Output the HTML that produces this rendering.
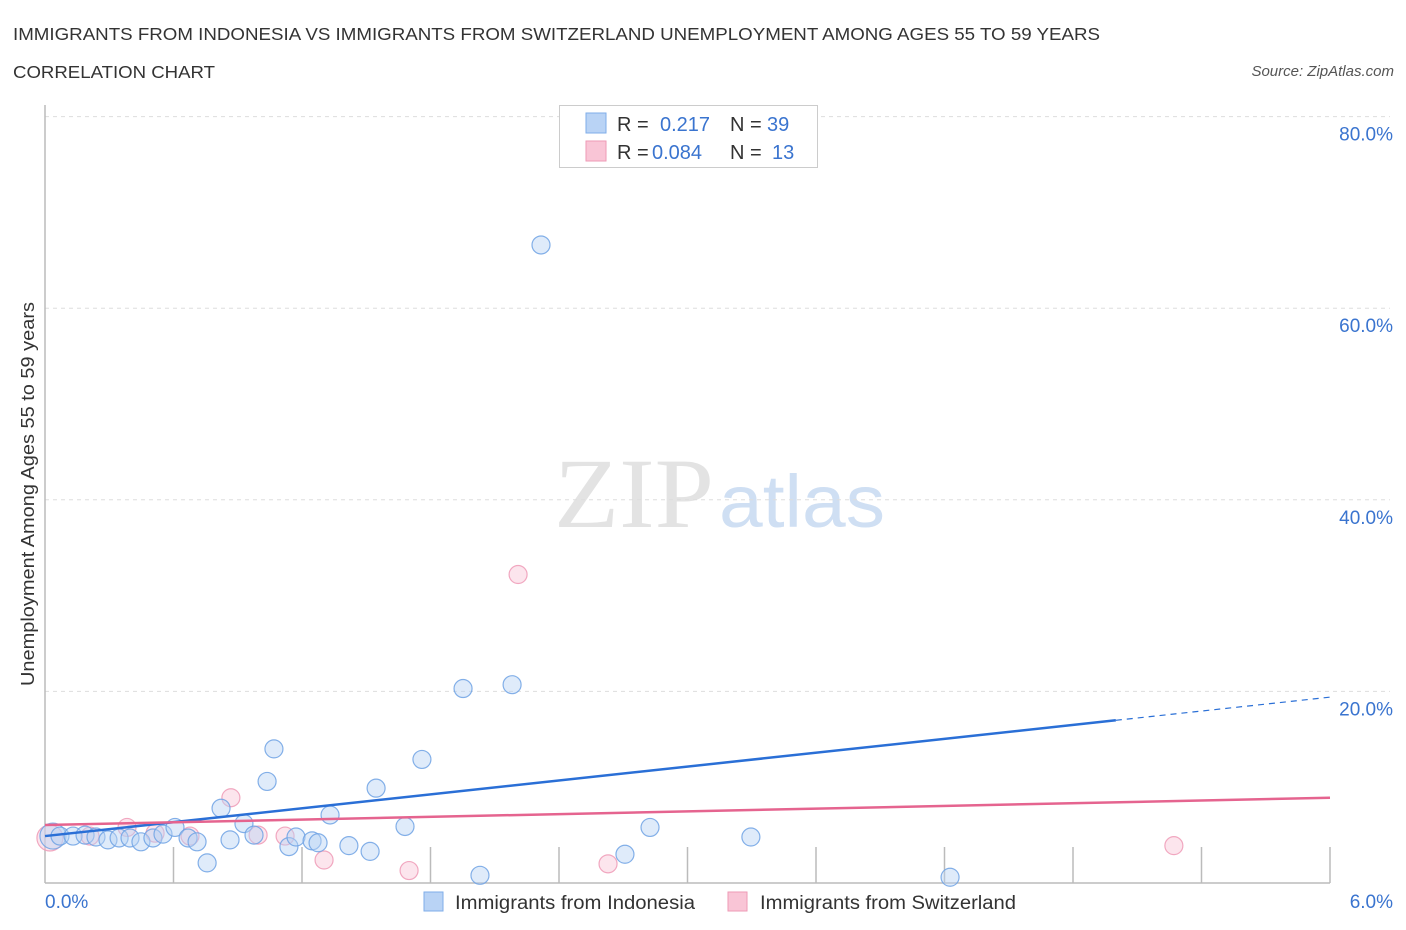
<!DOCTYPE html>
<html><head><meta charset="utf-8"><style>
body{margin:0;background:#fff;font-family:"Liberation Sans",sans-serif}
svg{display:block}
</style></head><body>
<svg id="chart" width="1406" height="930">
<text x="13" y="40" font-size="17.5" fill="#333" textLength="1087" lengthAdjust="spacingAndGlyphs">IMMIGRANTS FROM INDONESIA VS IMMIGRANTS FROM SWITZERLAND UNEMPLOYMENT AMONG AGES 55 TO 59 YEARS</text>
<text x="13" y="78" font-size="17.5" fill="#333" textLength="202" lengthAdjust="spacingAndGlyphs">CORRELATION CHART</text>
<text x="1394" y="76" font-size="15" font-style="italic" fill="#555" text-anchor="end">Source: ZipAtlas.com</text>
<text x="634" y="527" font-size="100" font-family="Liberation Serif,serif" fill="#e3e3e3" text-anchor="middle" textLength="160" lengthAdjust="spacingAndGlyphs">ZIP</text>
<text x="802" y="527" font-size="74" fill="#cfdff3" text-anchor="middle" textLength="166" lengthAdjust="spacingAndGlyphs">atlas</text>
<g id="grid"></g>
<g id="marks"></g>
<text x="34" y="494" font-size="18" fill="#333" text-anchor="middle" transform="rotate(-90 34 494)" textLength="384" lengthAdjust="spacingAndGlyphs">Unemployment Among Ages 55 to 59 years</text>
<g>
<rect x="559.5" y="105.5" width="258" height="62" fill="#fff" stroke="#ccc"/>
<rect x="586" y="113" width="20" height="20" fill="#b9d3f5" stroke="#7faee9"/>
<rect x="586" y="141" width="20" height="20" fill="#f9c5d6" stroke="#ee9ab6"/>
<text x="617" y="131" font-size="20" fill="#333">R = </text><text x="660" y="131" font-size="20" fill="#3a74cf">0.217</text>
<text x="730" y="131" font-size="20" fill="#333">N = </text><text x="767" y="131" font-size="20" fill="#3a74cf">39</text>
<text x="617" y="159" font-size="20" fill="#333">R = </text><text x="652" y="159" font-size="20" fill="#3a74cf">0.084</text>
<text x="730" y="159" font-size="20" fill="#333">N = </text><text x="772" y="159" font-size="20" fill="#3a74cf">13</text>
</g>
<g>
<rect x="424" y="892" width="19" height="19" fill="#b9d3f5" stroke="#7faee9"/>
<text x="455" y="909" font-size="19" fill="#333" textLength="240" lengthAdjust="spacingAndGlyphs">Immigrants from Indonesia</text>
<rect x="728" y="892" width="19" height="19" fill="#f9c5d6" stroke="#ee9ab6"/>
<text x="760" y="909" font-size="19" fill="#333" textLength="256" lengthAdjust="spacingAndGlyphs">Immigrants from Switzerland</text>
</g>
</svg>
<script>
const blueX=[0.037,0.070,0.131,0.187,0.238,0.294,0.346,0.397,0.448,0.504,0.551,0.607,0.668,0.710,0.757,0.822,0.864,0.929,0.976,1.037,1.069,1.139,1.172,1.247,1.275,1.331,1.419,1.518,1.546,1.681,1.760,1.952,2.031,2.181,2.316,2.708,2.825,3.296,4.226];
const blueY=[4.9,4.9,4.9,5.0,4.8,4.5,4.7,4.7,4.3,4.7,5.1,5.8,4.7,4.3,2.1,7.8,4.5,6.2,5.0,10.6,14.0,3.8,4.8,4.4,4.2,7.1,3.9,3.3,9.9,5.9,12.9,20.3,0.8,20.7,66.6,3.0,5.8,4.8,0.6];
const pinkX=[0.023,0.21,0.383,0.514,0.677,0.868,0.995,1.121,1.303,1.700,2.209,2.629,5.271];
const pinkY=[4.7,4.9,5.8,5.2,4.9,8.9,5.0,4.9,2.4,1.3,32.2,2.0,3.9];
const blueTrend=[4.9,19.4];
const pinkTrend=[6.05,8.9];
const yTicks=[20,40,60,80];
const xTickLabels=["0.0%","6.0%"];
const NS="http://www.w3.org/2000/svg";
const X0=45,X1=1330,Y0=883,PY=9.58;
const sx=v=>X0+v/6*(X1-X0), sy=v=>Y0-v*PY;
function mk(tag,a,p){const e=document.createElementNS(NS,tag);for(const k in a)e.setAttribute(k,a[k]);p.appendChild(e);return e;}
const grid=document.getElementById('grid'),marks=document.getElementById('marks');
yTicks.forEach(t=>{
 const l=mk('line',{x1:X0,x2:1390,y1:sy(t),y2:sy(t),stroke:'#ddd','stroke-dasharray':'4,4'},grid);
 
 
 const tx=mk('text',{x:1393,y:sy(t)+24,'font-size':19,fill:'#3a74cf','text-anchor':'end'},grid);
 tx.textContent=t.toFixed(1)+'%';
 
 
});
const ax=mk('line',{x1:X0,x2:X0,y1:105,y2:Y0,stroke:'#bbb','stroke-width':1.5},grid);


const bx=mk('line',{x1:X0,x2:X1,y1:Y0,y2:Y0,stroke:'#bbb','stroke-width':1.5},grid);


for(let i=1;i<=10;i++){const tk=mk('line',{x1:sx(i*0.6),x2:sx(i*0.6),y1:Y0,y2:Y0-36,stroke:'#bbb','stroke-width':1.5},grid);
 
 }
const xl0=mk('text',{x:45,y:908,'font-size':19,fill:'#3a74cf'},grid);xl0.textContent=xTickLabels[0];


const xl1=mk('text',{x:1393,y:908,'font-size':19,fill:'#3a74cf','text-anchor':'end'},grid);xl1.textContent=xTickLabels[1];


function pts(xs,ys,fill,stroke,name){xs.forEach((x,i)=>{const r=i===0&&x<0.05?13:9;
 const c=mk('circle',{cx:sx(x),cy:sy(ys[i]),r:r,fill:fill,'fill-opacity':0.45,stroke:stroke,'stroke-width':1.2,'stroke-opacity':0.85},marks);
 
 });}
pts(pinkX,pinkY,'#f9c5d6','#ee9ab6','point-switzerland');
pts(blueX,blueY,'#b9d3f5','#6fa2e4','point-indonesia');
const bAt=x=>blueTrend[0]+(blueTrend[1]-blueTrend[0])*x/6, pAt=x=>pinkTrend[0]+(pinkTrend[1]-pinkTrend[0])*x/6;
const xs=5.0;
const bl=mk('line',{x1:sx(0),y1:sy(bAt(0)),x2:sx(xs),y2:sy(bAt(xs)),stroke:'#2a6fd6','stroke-width':2.5},marks);


const bd=mk('line',{x1:sx(xs),y1:sy(bAt(xs)),x2:sx(6),y2:sy(bAt(6)),stroke:'#2a6fd6','stroke-width':1.2,'stroke-dasharray':'6,5'},marks);


const pl=mk('line',{x1:sx(0),y1:sy(pAt(0)),x2:sx(6),y2:sy(pAt(6)),stroke:'#e5648f','stroke-width':2.5},marks);


</script>
</body></html>
